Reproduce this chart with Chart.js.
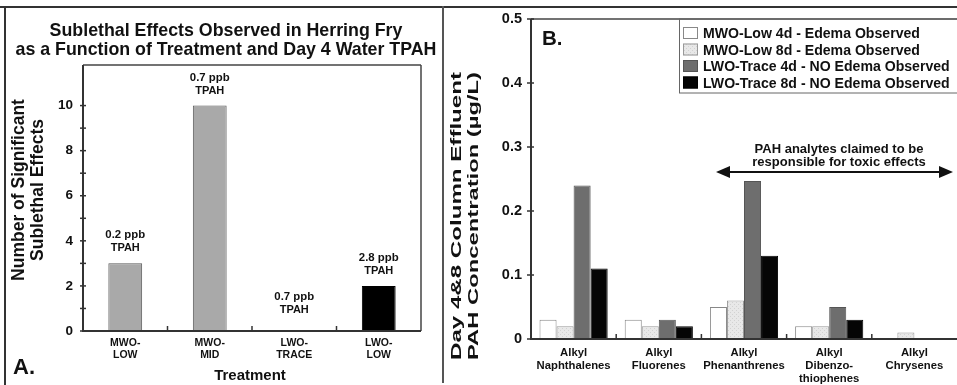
<!DOCTYPE html>
<html>
<head>
<meta charset="utf-8">
<script src="https://cdn.jsdelivr.net/npm/chart.js@4.4.1/dist/chart.umd.min.js"></script>
<style>
  body { margin: 0; background: #fff; }
  #wrap { position: relative; width: 957px; height: 385px; overflow: hidden; background: #fff; }
  #chartA { position: absolute; left: 0; top: 0; }
  #chartB { position: absolute; left: 446px; top: 0; }
  .rule { position: absolute; background: #333; }
</style>
</head>
<body>
<div id="wrap">
  <canvas id="chartA" width="443" height="385"></canvas>
  <canvas id="chartB" width="511" height="385"></canvas>
  <div class="rule" style="left:0;top:6px;width:957px;height:2px;"></div>
  <div class="rule" style="left:4px;top:6px;width:2px;height:379px;"></div>
  <div class="rule" style="left:442px;top:6px;width:2px;height:377px;background:#555;"></div>
</div>
<script>
// panel A data
var categoriesA = [["MWO-", "LOW"], ["MWO-", "MID"], ["LWO-", "TRACE"], ["LWO-", "LOW"]];
var effectsA = [3, 10, 0, 2];
var tpahA = ["0.2 ppb", "0.7 ppb", "0.7 ppb", "2.8 ppb"];
var yTicksA = [0, 2, 4, 6, 8, 10];
var yMinorA = [1, 3, 5, 7, 9];

// panel B data
var categoriesB = [["Alkyl", "Naphthalenes"], ["Alkyl", "Fluorenes"], ["Alkyl", "Phenanthrenes"], ["Alkyl", "Dibenzo-", "thiophenes"], ["Alkyl", "Chrysenes"]];
var seriesNamesB = ["MWO-Low 4d - Edema Observed", "MWO-Low 8d - Edema Observed", "LWO-Trace 4d - NO Edema Observed", "LWO-Trace 8d - NO Edema Observed"];
var mwoLow4d = [0.03, 0.03, 0.05, 0.02, 0];
var mwoLow8d = [0.02, 0.02, 0.06, 0.02, 0.01];
var lwoTrace4d = [0.24, 0.03, 0.247, 0.05, 0];
var lwoTrace8d = [0.11, 0.02, 0.13, 0.03, 0];
var yTicksB = [0, 0.1, 0.2, 0.3, 0.4, 0.5];

var FONT = "'Liberation Sans', Arial, Helvetica, sans-serif";
Chart.defaults.font.family = FONT;
Chart.defaults.color = "#111";

// stippled light grey fill
function stipple() {
    var c = document.createElement("canvas");
    c.width = 4; c.height = 4;
    var g = c.getContext("2d");
    g.fillStyle = "#e8e8e8";
    g.fillRect(0, 0, 4, 4);
    g.fillStyle = "#d2d2d2";
    g.fillRect(0, 0, 1, 1);
    g.fillRect(2, 2, 1, 1);
    return g.createPattern(c, "repeat");
}

function txt(ctx, s, x, y, size, align) {
    ctx.font = "bold " + size + "px " + FONT;
    ctx.textAlign = align || "center";
    ctx.textBaseline = "alphabetic";
    ctx.fillStyle = "#111";
    ctx.fillText(s, x, y);
}

// rotated two-line title, optionally stretched along the text
function vTitle(ctx, lines, xs, cy, size, len) {
    ctx.save();
    ctx.font = "bold " + size + "px " + FONT;
    ctx.fillStyle = "#111";
    ctx.textAlign = "center";
    ctx.textBaseline = "middle";
    for (var i = 0; i < lines.length; i++) {
        ctx.save();
        ctx.translate(xs[i], cy);
        ctx.rotate(-Math.PI / 2);
        if (len) {
            var w = ctx.measureText(lines[i]).width;
            ctx.scale(len / w, 1);
        }
        ctx.fillText(lines[i], 0, 0);
        ctx.restore();
    }
    ctx.restore();
}

function line(ctx, x1, y1, x2, y2, color, w) {
    ctx.beginPath();
    ctx.strokeStyle = color;
    ctx.lineWidth = w;
    ctx.moveTo(x1, y1);
    ctx.lineTo(x2, y2);
    ctx.stroke();
}

var decorA = {
    id: "decorA",
    afterDraw: function (chart) {
        var ctx = chart.ctx, a = chart.chartArea;
        var y = chart.scales.y, x = chart.scales.x;
        ctx.save();
        // frame
        line(ctx, a.left, a.top, a.right, a.top, "#444", 1.5);
        line(ctx, a.right, a.top, a.right, a.bottom, "#444", 1.5);
        line(ctx, a.left, a.top, a.left, a.bottom + 1, "#333", 2);
        line(ctx, a.left, a.bottom, a.right, a.bottom, "#333", 2);
        yTicksA.concat(yMinorA).forEach(function (v) {
            var py = y.getPixelForValue(v);
            line(ctx, a.left - 3, py, a.left + 3, py, "#333", 1.5);
        });
        for (var i = 0; i < categoriesA.length - 1; i++) {
            var px = (x.getPixelForTick(i) + x.getPixelForTick(i + 1)) / 2;
            line(ctx, px, a.bottom, px, a.bottom - 5, "#333", 1.5);
        }
        // concentration labels above the bars
        var meta = chart.getDatasetMeta(0);
        meta.data.forEach(function (bar, i) {
            var top = y.getPixelForValue(effectsA[i]);
            var gap = effectsA[i] === 0 ? 18 : 12;
            txt(ctx, tpahA[i], bar.x, top - gap - 13, 11.4);
            txt(ctx, "TPAH", bar.x, top - gap, 11);
        });
        txt(ctx, "Sublethal Effects Observed in Herring Fry", 226, 36, 17.8);
        txt(ctx, "as a Function of Treatment and Day 4 Water TPAH", 226, 55, 17.8);
        vTitle(ctx, ["Number of Significant", "Sublethal Effects"], [19, 38], 190, 17.5);
        txt(ctx, "Treatment", 250, 380, 15);
        txt(ctx, "A.", 13, 374, 22, "left");
        ctx.restore();
    }
};

var decorB = {
    id: "decorB",
    afterDraw: function (chart) {
        var ctx = chart.ctx, a = chart.chartArea;
        var y = chart.scales.y, x = chart.scales.x;
        ctx.save();
        line(ctx, a.left, a.top, chart.width, a.top, "#444", 1.5);
        line(ctx, a.left, a.top, a.left, a.bottom + 1, "#333", 2);
        line(ctx, a.left, a.bottom, chart.width, a.bottom, "#333", 2);
        yTicksB.forEach(function (v) {
            var py = y.getPixelForValue(v);
            line(ctx, a.left - 4, py, a.left + 3, py, "#333", 1.5);
        });
        for (var i = 0; i < categoriesB.length - 1; i++) {
            var px = (x.getPixelForTick(i) + x.getPixelForTick(i + 1)) / 2;
            line(ctx, px, a.bottom, px, a.bottom - 5, "#333", 1.5);
        }
        // legend box
        ctx.strokeStyle = "#666";
        ctx.lineWidth = 1;
        ctx.strokeRect(233.5, a.top, 300, 74);
        chart.data.datasets.forEach(function (ds, i) {
            var by = 38 + i * 16.5;
            ctx.fillStyle = ds.backgroundColor;
            ctx.fillRect(237, by - 11, 15, 12);
            ctx.strokeStyle = ds.borderColor;
            ctx.strokeRect(237.5, by - 10.5, 14, 11);
            txt(ctx, ds.label, 257, by, 14.1, "left");
        });
        txt(ctx, "B.", 96, 45, 20.5, "left");
        // arrow and note
        var ay = 172, x1 = 270, x2 = 507;
        line(ctx, x1 + 8, ay, x2 - 8, ay, "#111", 2);
        ctx.fillStyle = "#111";
        ctx.beginPath();
        ctx.moveTo(x1, ay); ctx.lineTo(x1 + 14, ay - 6); ctx.lineTo(x1 + 14, ay + 6); ctx.closePath(); ctx.fill();
        ctx.beginPath();
        ctx.moveTo(x2, ay); ctx.lineTo(x2 - 14, ay - 6); ctx.lineTo(x2 - 14, ay + 6); ctx.closePath(); ctx.fill();
        txt(ctx, "PAH analytes claimed to be", 393, 153, 13);
        txt(ctx, "responsible for toxic effects", 393, 166, 13);
        vTitle(ctx, ["Day 4&8 Column Effluent", "PAH Concentration (\u00b5g/L)"], [11, 28], 216, 15, 288);
        ctx.restore();
    }
};

window.onload = function () {
    var ctxA = document.getElementById("chartA").getContext("2d");
    new Chart(ctxA, {
        type: "bar",
        data: {
            labels: categoriesA,
            datasets: [{
                label: "Sublethal effects",
                data: effectsA,
                backgroundColor: ["#a9a9a9", "#a9a9a9", "#a9a9a9", "#000000"],
                borderColor: ["#5a5a5a", "#5a5a5a", "#5a5a5a", "#000000"],
                borderWidth: 1,
                barPercentage: 0.4,
                categoryPercentage: 1
            }]
        },
        options: {
            responsive: false,
            animation: false,
            devicePixelRatio: 1,
            layout: { padding: { top: 65, right: 22, left: 0, bottom: 0 } },
            plugins: { legend: { display: false }, tooltip: { enabled: false } },
            scales: {
                x: {
                    grid: { display: false, drawTicks: false },
                    border: { display: false },
                    ticks: { font: { size: 10.5, weight: "bold", lineHeight: 1.14 }, padding: 6, color: "#111", maxRotation: 0, autoSkip: false },
                    afterFit: function (s) { s.height = 54; }
                },
                y: {
                    min: 0, max: 11.8,
                    grid: { display: false, drawTicks: false },
                    border: { display: false },
                    afterBuildTicks: function (s) { s.ticks = yTicksA.map(function (v) { return { value: v }; }); },
                    ticks: { font: { size: 13.5, weight: "bold" }, padding: 10, color: "#111" },
                    afterFit: function (s) { s.width = 83; }
                }
            }
        },
        plugins: [decorA]
    });

    var ctxB = document.getElementById("chartB").getContext("2d");
    var light = stipple();
    new Chart(ctxB, {
        type: "bar",
        data: {
            labels: categoriesB,
            datasets: [
                { label: seriesNamesB[0], data: mwoLow4d, backgroundColor: "#ffffff", borderColor: "#888888" },
                { label: seriesNamesB[1], data: mwoLow8d, backgroundColor: light, borderColor: "#999999" },
                { label: seriesNamesB[2], data: lwoTrace4d, backgroundColor: "#6e6e6e", borderColor: "#555555" },
                { label: seriesNamesB[3], data: lwoTrace8d, backgroundColor: "#050505", borderColor: "#000000" }
            ]
        },
        options: {
            responsive: false,
            animation: false,
            devicePixelRatio: 1,
            datasets: { bar: { borderWidth: 1, barPercentage: 1, categoryPercentage: 0.8 } },
            layout: { padding: { top: 19, right: 0, left: 0, bottom: 0 } },
            plugins: { legend: { display: false }, tooltip: { enabled: false } },
            scales: {
                x: {
                    grid: { display: false, drawTicks: false },
                    border: { display: false },
                    ticks: { font: { size: 11.3, weight: "bold", lineHeight: 1.15 }, padding: 7, color: "#111", maxRotation: 0, autoSkip: false },
                    afterFit: function (s) { s.height = 46; }
                },
                y: {
                    min: 0, max: 0.5,
                    grid: { display: false, drawTicks: false },
                    border: { display: false },
                    afterBuildTicks: function (s) { s.ticks = yTicksB.map(function (v) { return { value: v }; }); },
                    ticks: {
                        font: { size: 14.5, weight: "bold" }, padding: 9, color: "#111",
                        callback: function (v) { return v === 0 ? "0" : v.toFixed(1); }
                    },
                    afterFit: function (s) { s.width = 85; }
                }
            }
        },
        plugins: [decorB]
    });
};
</script>
</body>
</html>
